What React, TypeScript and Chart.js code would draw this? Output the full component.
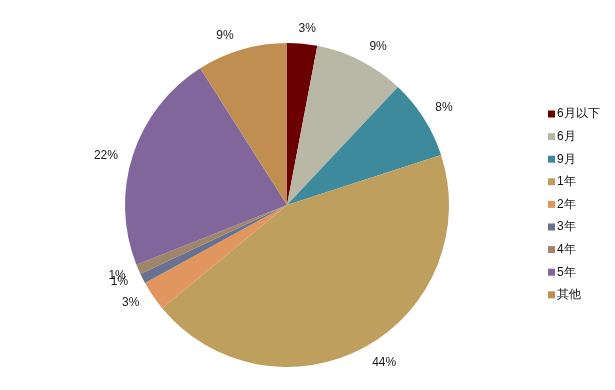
import React, { useEffect, useRef } from "react";
import { Chart, registerables } from "chart.js";

Chart.register(...registerables);

const categories = ["6月以下", "6月", "9月", "1年", "2年", "3年", "4年", "5年", "其他"];
const values = [3, 9, 8, 44, 3, 1, 1, 22, 9];
const colors = ["#6B0000", "#B9B8A6", "#3D8A9C", "#BF9F5E", "#E0965E", "#68718F", "#A0856A", "#80669A", "#BF8E50"];

const FONT = "'Liberation Sans', Arial, sans-serif";

// small label nudges (Excel-style label placement), in px relative to radial position
const labelNudge: [number, number][] = [
  [3, 5], [8, 4], [2.5, 0], [9, -3], [-5, -5.5], [-4.5, -6.5], [-2, -2.7], [-7, 6.5], [-11, 6],
];

const labelPlugin = {
  id: "outLabels",
  afterDatasetsDraw(chart: any) {
    const ctx = chart.ctx;
    const meta = chart.getDatasetMeta(0);
    ctx.save();
    ctx.font = `12px ${FONT}`;
    ctx.fillStyle = "#1a1a1a";
    ctx.textAlign = "center";
    ctx.textBaseline = "middle";
    meta.data.forEach((arc: any, i: number) => {
      const { x, y, startAngle, endAngle, outerRadius } = arc.getProps(["x", "y", "startAngle", "endAngle", "outerRadius"], true);
      const mid = (startAngle + endAngle) / 2;
      const r = outerRadius + 21;
      const [nx, ny] = labelNudge[i];
      ctx.fillText(`${values[i]}%`, x + r * Math.cos(mid) + nx, y + r * Math.sin(mid) + ny + 0.5);
    });
    ctx.restore();
  },
};

const legendPlugin = {
  id: "customLegend",
  afterDraw(chart: any) {
    const ctx = chart.ctx;
    ctx.save();
    ctx.font = `12px ${FONT}`;
    ctx.textAlign = "left";
    ctx.textBaseline = "middle";
    categories.forEach((c, i) => {
      const cy = 114 + i * 22.6;
      ctx.fillStyle = colors[i];
      ctx.fillRect(548, cy - 3.5, 7, 7);
      ctx.fillStyle = "#111";
      ctx.fillText(c, 557, cy);
    });
    ctx.restore();
  },
};

export default function App() {
  const ref = useRef<HTMLCanvasElement>(null);
  useEffect(() => {
    if (!ref.current) return;
    const chart = new Chart(ref.current, {
      type: "pie",
      data: {
        labels: categories,
        datasets: [{ data: values, backgroundColor: colors, borderWidth: 0 }],
      },
      options: {
        animation: false,
        responsive: false,
        layout: { padding: { top: 43, bottom: 23, left: 125, right: 166 } },
        plugins: { legend: { display: false }, tooltip: { enabled: false } },
      },
      plugins: [labelPlugin, legendPlugin],
    });
    return () => chart.destroy();
  }, []);
  return (
    <div style={{ position: "absolute", left: 0, top: 0, width: 615, height: 390, background: "#fff" }}>
      <canvas ref={ref} width={615} height={390} style={{ width: 615, height: 390 }} />
    </div>
  );
}
